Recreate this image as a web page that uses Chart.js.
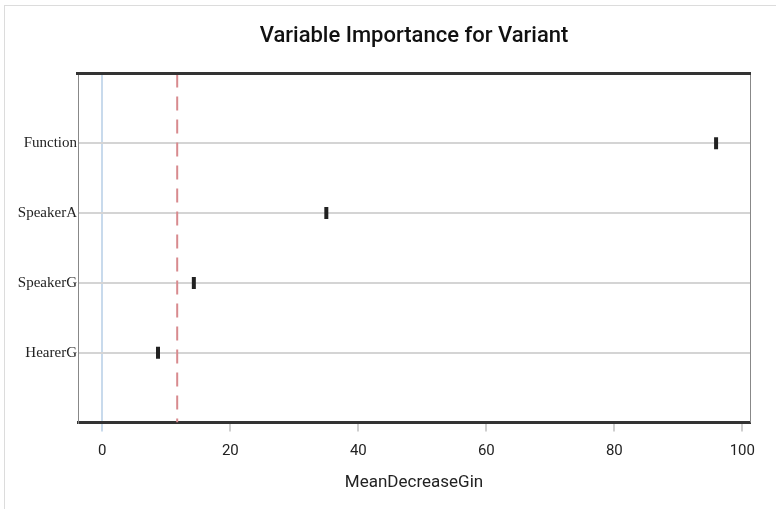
<!doctype html>
<html>
  <head>
    <meta charset="utf-8">
    <title>Variable Importance for Variant</title>
    <style>
      html, body {
	  margin: 0;
	  padding: 0;
	  background: #fff;
      }
      #frame {
	  position: absolute;
	  left: 4px;
	  top: 5px;
	  width: 900px;
	  height: 700px;
	  border: 1px solid #dcdcdc;
      }
      #wrap {
	  position: absolute;
	  left: 0;
	  top: 0;
	  width: 776px;
	  height: 509px;
      }
    </style>
    <script src="https://cdn.jsdelivr.net/npm/chart.js@4.4.1/dist/chart.umd.min.js"></script>
  </head>
  <body>
    <div id="frame"></div>
    <div id="wrap"><canvas id="imp"></canvas></div>
    <script>
    // variables, top to bottom as drawn
    const variables = ["Function", "SpeakerA", "SpeakerG", "HearerG"];
    const meanDecreaseGini = [95.9, 35.0, 14.3, 8.7];
    const cutoff = 11.7;
    const xTicks = [0, 20, 40, 60, 80, 100];

    const n = variables.length;
    const sansFont = "Roboto, 'DejaVu Sans', sans-serif";

    // extra frame lines (top and right) around the plot area
    const frameLines = {
	id: "frameLines",
	afterDraw(chart) {
	    const a = chart.chartArea;
	    const ctx = chart.ctx;
	    ctx.save();
	    ctx.strokeStyle = "#888";
	    ctx.lineWidth = 1;
	    ctx.beginPath();
	    ctx.moveTo(a.right + 0.5, a.top);
	    ctx.lineTo(a.right + 0.5, a.bottom);
	    ctx.stroke();
	    ctx.strokeStyle = "#333";
	    ctx.lineWidth = 3;
	    ctx.beginPath();
	    ctx.moveTo(a.left - 2, a.top);
	    ctx.lineTo(a.right + 1, a.top);
	    ctx.stroke();
	    ctx.restore();
	}
    };

    new Chart(document.getElementById("imp"), {
	type: "scatter",
	data: {
	    datasets: [{
		label: "importance",
		data: meanDecreaseGini.map((v, i) => ({x: v, y: n - i})),
		pointStyle: "line",
		rotation: 90,
		radius: 6,
		hoverRadius: 6,
		borderWidth: 4,
		borderColor: "#222",
		backgroundColor: "#222",
		order: 0
	    }, {
		label: "cutoff",
		type: "line",
		data: [{x: cutoff, y: n + 1}, {x: cutoff, y: 0}],
		borderColor: "#d88a8e",
		borderWidth: 2,
		borderDash: [14, 9],
		pointRadius: 0,
		fill: false,
		order: 1
	    }]
	},
	options: {
	    responsive: true,
	    maintainAspectRatio: false,
	    animation: false,
	    layout: {
		padding: {left: 0, right: 26, top: 0, bottom: 0}
	    },
	    plugins: {
		legend: {display: false},
		tooltip: {enabled: false},
		title: {
		    display: true,
		    text: "Variable Importance for Variant",
		    fullSize: false,
		    color: "#111",
		    font: {family: sansFont, size: 22, weight: "500"},
		    padding: {top: 23, bottom: 24}
		}
	    },
	    scales: {
		x: {
		    type: "linear",
		    min: -3.8,
		    max: 101.2,
		    afterBuildTicks: (scale) => {
			scale.ticks = xTicks.map(v => ({value: v}));
		    },
		    border: {display: true, color: "#333", width: 3},
		    grid: {
			drawOnChartArea: true,
			drawTicks: true,
			tickLength: 9,
			lineWidth: 2,
			color: (c) => (c.tick && c.tick.value === 0) ? "#c8daec" : "rgba(0,0,0,0)",
			tickColor: (c) => (c.tick && c.tick.value === 0) ? "#c8daec" : "#cfcfcf"
		    },
		    ticks: {
			color: "#222",
			padding: 11,
			font: {family: sansFont, size: 15}
		    },
		    title: {
			display: true,
			text: "MeanDecreaseGin",
			color: "#222",
			font: {family: sansFont, size: 17},
			padding: {top: 1, bottom: 16}
		    }
		},
		y: {
		    type: "linear",
		    min: 0,
		    max: n + 1,
		    afterBuildTicks: (scale) => {
			scale.ticks = Array.from({length: n + 2}, (x, i) => ({value: i}));
		    },
		    afterFit: (scale) => { scale.width = 78; },
		    border: {display: true, color: "#888", width: 1},
		    grid: {
			drawTicks: false,
			lineWidth: 2,
			color: (c) => (c.tick && c.tick.value >= 1 && c.tick.value <= n) ? "#d4d4d4" : "rgba(0,0,0,0)"
		    },
		    ticks: {
			color: "#222",
			padding: 1,
			font: {family: "'Liberation Serif', 'DejaVu Serif', serif", size: 15},
			callback: (v) => (v >= 1 && v <= n) ? variables[n - v] : ""
		    }
		}
	    }
	},
	plugins: [frameLines]
    });
    </script>
  </body>
</html>
